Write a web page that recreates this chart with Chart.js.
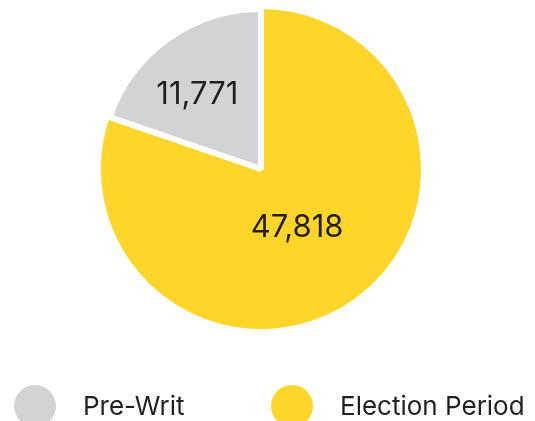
<!DOCTYPE html>
<html>
<head>
<meta charset="utf-8">
<script src="https://cdn.jsdelivr.net/npm/chart.js@4.4.0/dist/chart.umd.min.js"></script>
<style>
  html, body { margin: 0; padding: 0; background: #fff; }
  #wrap { width: 535px; height: 421px; }
</style>
</head>
<body>
<div id="wrap"><canvas id="myChart" width="535" height="421"></canvas></div>
<script>
// data
const categories = ["Pre-Writ", "Election Period"];
const values = [11771, 47818];
const colors = ["#d1d3d4", "#ffd52a"];

// draw order: election first, pre-writ last so its white edge sits on top
const order = [1, 0];
const labelRadius = { 0: 0.62, 1: 0.42 };
const labelShift = { 0: [-6, 6], 1: [-3, 4] };

const pieLabels = {
  id: "pieLabels",
  afterDatasetsDraw(chart) {
    const ctx = chart.ctx;
    const meta = chart.getDatasetMeta(0);
    ctx.save();
    ctx.font = "400 31px Inter";
    ctx.fillStyle = "#231f20";
    ctx.textAlign = "center";
    ctx.textBaseline = "middle";
    meta.data.forEach(function(arc, i) {
      const idx = order[i];
      const mid = (arc.startAngle + arc.endAngle) / 2;
      const r = arc.outerRadius * labelRadius[idx];
      const x = arc.x + Math.cos(mid) * r + labelShift[idx][0];
      const y = arc.y + Math.sin(mid) * r + labelShift[idx][1];
      ctx.fillText(values[idx].toLocaleString("en-US"), x, y);
    });
    ctx.restore();
  }
};

// legend under the pie
const bottomLegend = {
  id: "bottomLegend",
  afterDraw(chart) {
    const ctx = chart.ctx;
    const xs = [35, 292];
    ctx.save();
    ctx.font = "400 26px Inter";
    ctx.textBaseline = "alphabetic";
    ctx.textAlign = "left";
    categories.forEach(function(name, i) {
      ctx.fillStyle = colors[i];
      ctx.beginPath();
      ctx.arc(xs[i], 406, 21, 0, Math.PI * 2);
      ctx.fill();
      ctx.fillStyle = "#231f20";
      ctx.fillText(name, xs[i] + 48, 415);
    });
    ctx.restore();
  }
};

new Chart("myChart", {
  type: "pie",
  data: {
    labels: order.map(i => categories[i]),
    datasets: [{
      data: order.map(i => values[i]),
      backgroundColor: order.map(i => colors[i]),
      borderColor: "#ffffff",
      borderWidth: order.map(i => i === 0 ? 6 : 0)
    }]
  },
  options: {
    responsive: false,
    animation: false,
    layout: { padding: { left: 98, right: 111, top: 6, bottom: 89 } },
    plugins: {
      legend: { display: false },
      tooltip: { enabled: false }
    }
  },
  plugins: [pieLabels, bottomLegend]
});
</script>
</body>
</html>
